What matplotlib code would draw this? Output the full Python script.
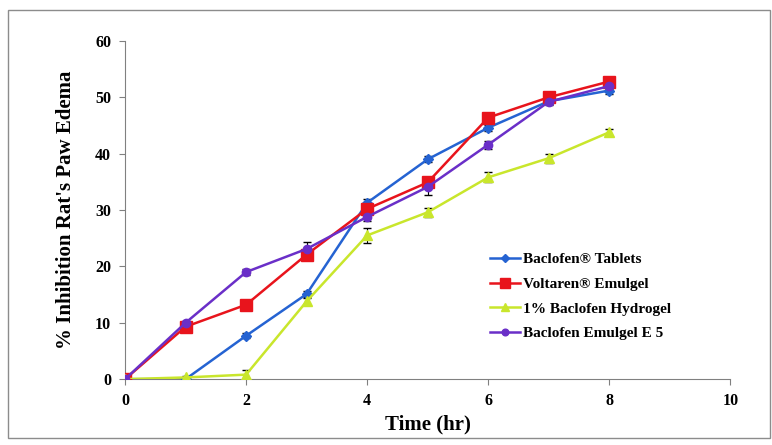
import numpy as np
import matplotlib.pyplot as plt
from matplotlib.patches import Rectangle

plt.rcParams['font.family'] = ['Liberation Serif', 'DejaVu Serif']
plt.rcParams['font.weight'] = 'bold'

# ---------------- data ----------------
time_hr = [0, 1, 2, 3, 4, 5, 6, 7, 8]
baclofen_tablets = [0, 0, 7.7, 15.1, 31.3, 39.0, 44.6, 49.3, 51.2]
voltaren_emulgel = [0, 9.3, 13.2, 22.1, 30.2, 34.9, 46.4, 50.0, 52.8]
baclofen_hydrogel = [0, 0.3, 0.8, 13.8, 25.5, 29.6, 35.8, 39.2, 43.8]
baclofen_e5 = [0, 10.0, 19.0, 23.1, 28.8, 34.1, 41.6, 49.2, 52.0]

err_tablets = [0, 0, 0.4, 0.5, 0.6, 0.5, 0.5, 0.5, 0.6]
err_voltaren = [0, 0.4, 0.5, 0.6, 0.6, 0.5, 0.6, 0.5, 0.6]
err_hydrogel = [0, 0.3, 0.8, 0.6, 1.3, 0.8, 0.9, 0.8, 0.6]
err_e5 = [0, 0.4, 0.5, 1.2, 0.8, 1.5, 0.7, 0.6, 0.6]

series = [
    ('Baclofen® Tablets', baclofen_tablets, err_tablets, '#2563D2', 'D', 5),
    ('Voltaren® Emulgel', voltaren_emulgel, err_voltaren, '#E8141C', 's', 9),
    ('1% Baclofen Hydrogel', baclofen_hydrogel, err_hydrogel, '#C9E62C', '^', 7),
    ('Baclofen Emulgel E 5', baclofen_e5, err_e5, '#6A2FC8', 'o', 6),
]

# ---------------- figure ----------------
fig = plt.figure(figsize=(7.72, 4.45), dpi=100)
ax = fig.add_axes([0.162, 0.148, 0.784, 0.76])

fig.patches.append(Rectangle((0.011, 0.016), 0.986, 0.962, transform=fig.transFigure,
                             fill=False, edgecolor='#8c8c8c', linewidth=1.0))

for name, vals, err, col, mk, ms in series:
    ax.errorbar(time_hr, vals, yerr=err, color=col, marker=mk, markersize=ms,
                linewidth=1.8, ecolor='black', elinewidth=0.8, capsize=3,
                label=name, zorder=3)

ax.set_xlim(0, 10)
ax.set_ylim(0, 60)
ax.set_xticks(range(0, 11, 2))
ax.set_yticks(range(0, 61, 10))

for s in ['top', 'right']:
    ax.spines[s].set_visible(False)
for s in ['left', 'bottom']:
    ax.spines[s].set_color('#808080')
ax.tick_params(axis='both', direction='out', length=4, color='#808080',
               labelsize=11.5, pad=6)

ax.set_xlabel('Time (hr)', fontsize=15, fontweight='bold', labelpad=4)
ax.set_ylabel("% Inhibition Rat's Paw Edema", fontsize=15, fontweight='bold', labelpad=14)

handles, labels = ax.get_legend_handles_labels()
handles = [h[0] for h in handles]
ax.legend(handles, labels, loc='upper left', bbox_to_anchor=(0.58, 0.415),
          frameon=False, fontsize=11, handlelength=2.0, handletextpad=0.2,
          labelspacing=0.72, markerscale=0.8)

fig.savefig('out.png', dpi=100)
